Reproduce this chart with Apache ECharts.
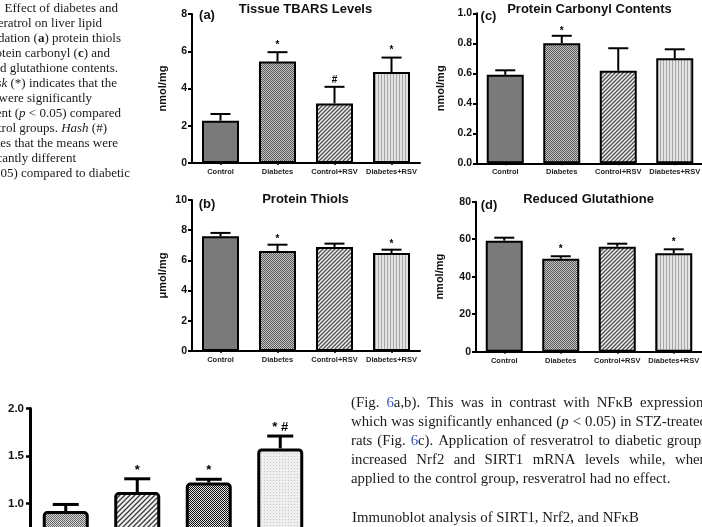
<!DOCTYPE html>
<html>
<head>
<meta charset="utf-8">
<script src="https://cdn.jsdelivr.net/npm/echarts@6.0.0/dist/echarts.min.js"></script>
<style>
  html, body { margin: 0; padding: 0; background: #fff; }
  #chart { width: 702px; height: 527px; }
</style>
</head>
<body>
<div id="chart"></div>
<script>
// ---- data ----
const groups = ['Control', 'Diabetes', 'Control+RSV', 'Diabetes+RSV']

const tbarsMean = [2.27, 5.45, 3.2, 4.88]
const tbarsSem = [0.36, 0.5, 0.89, 0.78]
const tbarsMarks = ['', '*', '#', '*']

const thiolMean = [7.6, 6.62, 6.89, 6.49]
const thiolSem = [0.22, 0.42, 0.22, 0.22]
const thiolMarks = ['', '*', '', '*']

const carbonylMean = [0.59, 0.8, 0.617, 0.7]
const carbonylSem = [0.03, 0.05, 0.15, 0.06]
const carbonylMarks = ['', '*', '', '']

const gshMean = [59.2, 49.6, 56, 52.5]
const gshSem = [1.6, 1.3, 1.6, 2.1]
const gshMarks = ['', '*', '', '*']

const fig6Mean = [0.92, 1.12, 1.22, 1.58]
const fig6Sem = [0.07, 0.14, 0.035, 0.13]
const fig6Marks = ['', '*', '*', '* #']

// ---- fills (hatch patterns) ----
function makePattern(w, h, draw) {
  const c = document.createElement('canvas')
  c.width = w
  c.height = h
  draw(c.getContext('2d'), w, h)
  return { image: c, repeat: 'repeat' }
}
const checker = (a, b) => makePattern(2, 2, ctx => {
  ctx.fillStyle = b; ctx.fillRect(0, 0, 2, 2)
  ctx.fillStyle = a; ctx.fillRect(0, 0, 1, 1); ctx.fillRect(1, 1, 1, 1)
})
const diagonal = (bg, fg, s) => makePattern(s, s, ctx => {
  ctx.fillStyle = bg; ctx.fillRect(0, 0, s, s)
  ctx.strokeStyle = fg; ctx.lineWidth = 1.3
  ctx.beginPath()
  ctx.moveTo(0, s); ctx.lineTo(s, 0)
  ctx.moveTo(-1, 1); ctx.lineTo(1, -1)
  ctx.moveTo(s - 1, s + 1); ctx.lineTo(s + 1, s - 1)
  ctx.stroke()
})
const vstripes = makePattern(3, 1, ctx => {
  ctx.fillStyle = '#e4e4e4'; ctx.fillRect(0, 0, 3, 1)
  ctx.fillStyle = '#a6a6a6'; ctx.fillRect(0, 0, 1, 1)
})
const lightDots = makePattern(3, 3, ctx => {
  ctx.fillStyle = '#efefef'; ctx.fillRect(0, 0, 3, 3)
  ctx.fillStyle = '#c4c4c4'; ctx.fillRect(0, 0, 1, 1)
})

const topFills = ['#7a7a7a', checker('#595959', '#c6c6c6'), diagonal('#efefef', '#505050', 4), vstripes]
const fig6Fills = [checker('#666', '#d6d6d6'), diagonal('#f2f2f2', '#3a3a3a', 5), checker('#111', '#e2e2e2'), lightDots]

const SANS = '"Liberation Sans", Arial, sans-serif'
const SERIF = '"Liberation Serif", "Times New Roman", serif'

// ---- panel layout ----
const panels = [
  { grid: { left: 192, top: 14, width: 228, height: 149 }, max: 8, interval: 2, name: 'nmol/mg', nameGap: 24,
    mean: tbarsMean, sem: tbarsSem, marks: tbarsMarks, off: 2,
    title: 'Tissue TBARS Levels', tx: 305.5, ty: 9.5, tag: '(a)', gx: 207, gy: 15 },
  { grid: { left: 192, top: 200, width: 228, height: 151 }, max: 10, interval: 2, name: 'μmol/mg', nameGap: 24,
    mean: thiolMean, sem: thiolSem, marks: thiolMarks, off: 0,
    title: 'Protein Thiols', tx: 305.5, ty: 199, tag: '(b)', gx: 207, gy: 204 },
  { grid: { left: 477, top: 13.3, width: 226, height: 150 }, max: 1, interval: 0.2, name: 'nmol/mg', nameGap: 31,
    mean: carbonylMean, sem: carbonylSem, marks: carbonylMarks, off: 0, dec: 1,
    title: 'Protein Carbonyl Contents', tx: 589.5, ty: 9.5, tag: '(c)', gx: 488.5, gy: 16 },
  { grid: { left: 476, top: 201.7, width: 226, height: 150 }, max: 80, interval: 20, name: 'nmol/mg', nameGap: 31,
    mean: gshMean, sem: gshSem, marks: gshMarks, off: 2,
    title: 'Reduced Glutathione', tx: 588.5, ty: 199, tag: '(d)', gx: 489, gy: 205 }
]

const grids = []
const xAxes = []
const yAxes = []
const series = []
const graphics = []

function errorBars(idx, mean, sem, marks, st) {
  return {
    type: 'custom',
    xAxisIndex: idx,
    yAxisIndex: idx,
    z: 3,
    silent: true,
    data: mean.map((m, i) => [i, m, m + sem[i]]),
    renderItem(params, api) {
      const base = api.coord([api.value(0), api.value(1)])
      const top = api.coord([api.value(0), api.value(2)])
      const x = base[0]
      const children = [
        { type: 'line', shape: { x1: x, y1: base[1], x2: x, y2: top[1] }, style: { stroke: '#000', lineWidth: st.lw } },
        { type: 'line', shape: { x1: x - st.cap / 2, y1: top[1], x2: x + st.cap / 2, y2: top[1] }, style: { stroke: '#000', lineWidth: st.lw } }
      ]
      const mk = marks[params.dataIndex]
      if (mk) {
        children.push({
          type: 'text',
          style: { text: mk, x: x, y: top[1] - st.off, align: 'center', verticalAlign: 'bottom',
            textAlign: 'center', textVerticalAlign: 'bottom', font: st.font, fill: '#000' }
        })
      }
      return { type: 'group', children }
    }
  }
}

panels.forEach((p, i) => {
  grids.push(Object.assign({ outerBoundsMode: 'none', containLabel: false }, p.grid))
  xAxes.push({
    type: 'category', gridIndex: i, data: groups,
    axisLine: { lineStyle: { color: '#000', width: 2 } },
    axisTick: { show: true, alignWithLabel: true, length: 2, lineStyle: { color: '#000', width: 1.5 } },
    axisLabel: { color: '#222', fontFamily: SANS, fontWeight: 'bold', fontSize: 7.5, margin: 5, interval: 0 }
  })
  yAxes.push({
    type: 'value', gridIndex: i, min: 0, max: p.max, interval: p.interval,
    name: p.name, nameLocation: 'middle', nameGap: p.nameGap,
    nameTextStyle: { color: '#111', fontFamily: SANS, fontWeight: 'bold', fontSize: 11 },
    axisLine: { show: true, lineStyle: { color: '#000', width: 2 } },
    axisTick: { show: true, length: 4, lineStyle: { color: '#000', width: 2 } },
    splitLine: { show: false },
    axisLabel: { color: '#111', fontFamily: SANS, fontWeight: 'bold', fontSize: 10.5, margin: 5,
      formatter: v => (p.dec ? v.toFixed(p.dec) : String(v)) }
  })
  series.push({
    type: 'bar', xAxisIndex: i, yAxisIndex: i, barWidth: 37, z: 2, silent: true,
    data: p.mean.map((v, k) => ({ value: v, itemStyle: { color: topFills[k] } })),
    itemStyle: { borderColor: '#000', borderWidth: 2 }
  })
  series.push(errorBars(i, p.mean, p.sem, p.marks, { lw: 2, cap: 20, off: p.off, font: 'bold 10px ' + SANS }))
  graphics.push({ type: 'text', x: p.tx, y: p.ty,
    style: { text: p.title, font: 'bold 13px ' + SANS, fill: '#111', align: 'center', verticalAlign: 'middle', textAlign: 'center', textVerticalAlign: 'middle' } })
  graphics.push({ type: 'text', x: p.gx, y: p.gy,
    style: { text: p.tag, font: 'bold 13px ' + SANS, fill: '#111', align: 'center', verticalAlign: 'middle', textAlign: 'center', textVerticalAlign: 'middle' } })
})

// bottom-left chart (cut off by the page)
const bi = panels.length
grids.push({ left: 30, top: 408.5, width: 286, height: 190, outerBoundsMode: 'none', containLabel: false })
xAxes.push({
  type: 'category', gridIndex: bi, data: groups,
  axisLine: { lineStyle: { color: '#000', width: 3 } },
  axisTick: { show: false }, axisLabel: { show: false }
})
yAxes.push({
  type: 'value', gridIndex: bi, min: 0, max: 2, interval: 0.5,
  axisLine: { show: true, lineStyle: { color: '#000', width: 3 } },
  axisTick: { show: true, length: 4, lineStyle: { color: '#000', width: 2.5 } },
  splitLine: { show: false },
  axisLabel: { color: '#111', fontFamily: SANS, fontWeight: 'bold', fontSize: 11.5, margin: 6, formatter: v => v.toFixed(1) }
})
series.push({
  type: 'bar', xAxisIndex: bi, yAxisIndex: bi, barWidth: 46, z: 2, silent: true,
  data: fig6Mean.map((v, k) => ({ value: v, itemStyle: { color: fig6Fills[k] } })),
  itemStyle: { borderColor: '#000', borderWidth: 3, borderRadius: 3 }
})
series.push(errorBars(bi, fig6Mean, fig6Sem, fig6Marks, { lw: 3, cap: 26, off: 2, font: 'bold 13px ' + SANS }))

// ---- page text around the figure ----
const measureCtx = document.createElement('canvas').getContext('2d')
function fontFor(s, size) {
  const st = s === 'i' ? 'italic ' : s === 'b' ? 'bold ' : ''
  return st + size + 'px ' + SERIF
}
function textWidth(t, font) {
  measureCtx.font = font
  return measureCtx.measureText(t).width
}
function toWords(segs) {
  const words = [[]]
  segs.forEach(([t, s = 'n']) => {
    t.split(/( )/).forEach(part => {
      if (part === ' ') {
        if (words[words.length - 1].length) words.push([])
      } else if (part) {
        words[words.length - 1].push([part, s])
      }
    })
  })
  return words.filter(w => w.length)
}
function layoutLine(segs, o) {
  const words = toWords(segs)
  const widths = words.map(w => w.reduce((a, [t, s]) => a + textWidth(t, fontFor(s, o.size)), 0))
  const sp = textWidth(' ', fontFor('n', o.size))
  const total = widths.reduce((a, b) => a + b, 0)
  let gap = sp
  let x = o.x
  if (o.mode === 'justify') gap = (o.right - o.x - total) / (words.length - 1)
  if (o.mode === 'right') x = o.right - total - sp * (words.length - 1)
  words.forEach(w => {
    w.forEach(([t, s]) => {
      const font = fontFor(s, o.size)
      graphics.push({ type: 'text', x, y: o.y, silent: true,
        style: { text: t, font, fill: s === 'l' ? '#3b55c0' : '#1a1a1a', verticalAlign: 'middle', textVerticalAlign: 'middle' } })
      x += textWidth(t, font)
    })
    x += gap
  })
}

const captionLines = [
  [['Effect of diabetes and']],
  [['resveratrol on liver lipid']],
  [['peroxidation ('], ['a', 'b'], [') protein thiols']],
  [['(b), protein carbonyl ('], ['c', 'b'], [') and']],
  [['reduced glutathione contents.']],
  [['Asterisk', 'i'], [' (*) indicates that the']],
  [['means were significantly']],
  [['different ('], ['p', 'i'], [' < 0.05) compared']],
  [['to control groups. '], ['Hash', 'i'], [' (#)']],
  [['indicates that the means were']],
  [['significantly different']],
  [['(p < 0.05) compared to diabetic']]
]
const captionRight = [118, 102, 121, 110, 118, 117, 92, 121, 107, 118, 76, 130]
captionLines.forEach((segs, i) => {
  layoutLine(segs, { mode: 'right', right: captionRight[i], y: 9 + 15 * i, size: 13 })
})

const bodyLines = [
  [['(Fig. '], ['6', 'l'], ['a,b). This was in contrast with NFκB expression,']],
  [['which was significantly enhanced ('], ['p', 'i'], [' < 0.05) in STZ-treated']],
  [['rats (Fig. '], ['6', 'l'], ['c). Application of resveratrol to diabetic groups']],
  [['increased Nrf2 and SIRT1 mRNA levels while, when']],
  [['applied to the control group, resveratrol had no effect.']]
]
bodyLines.forEach((segs, i) => {
  layoutLine(segs, { mode: i < 4 ? 'justify' : 'left', x: 351, right: 707, y: 403.5 + 18.8 * i, size: 14.8 })
})
layoutLine([['Immunoblot analysis of SIRT1, Nrf2, and NFκB']], { mode: 'left', x: 352, y: 518.5, size: 14.8 })

const chart = echarts.init(document.getElementById('chart'), null, { renderer: 'canvas' })
chart.setOption({
  animation: false,
  backgroundColor: '#fff',
  grid: grids,
  xAxis: xAxes,
  yAxis: yAxes,
  series,
  graphic: { elements: graphics }
})
</script>
</body>
</html>
